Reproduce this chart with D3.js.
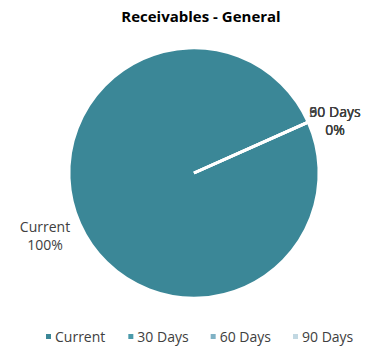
<!DOCTYPE html>
<html><head><meta charset="utf-8">
<script src="https://cdn.jsdelivr.net/npm/d3@7"></script>
<style>body{margin:0;background:#fff}svg{display:block}</style>
</head><body>
<svg id="c" width="367" height="347"></svg>
<script>
const categories = ["Current", "30 Days", "60 Days", "90 Days"];
const values = [100, 0, 0, 0];
const percentLabels = ["100%", "0%", "0%", "0%"];
const colors = ["#3b8797", "#4a9aaa", "#80b2c5", "#c2d8e2"];

const svg = d3.select("#c");
const cx = 194, cy = 173, R = 125;
const font = "'Open Sans', 'Liberation Sans', sans-serif";

svg.append("text").attr("x", 201).attr("y", 22).attr("text-anchor", "middle")
  .attr("font-family", font).attr("font-weight", "bold").attr("font-size", 15)
  .attr("fill", "#000").text("Receivables - General");

const start = 66 * Math.PI / 180;
const pie = d3.pie().sort(null).value(d => d).startAngle(start).endAngle(start + 2 * Math.PI);
const arcs = pie(values);
const arc = d3.arc().innerRadius(0).outerRadius(R);
const g = svg.append("g").attr("transform", `translate(${cx},${cy})`);
g.selectAll("path").data(arcs).join("path")
  .attr("d", arc)
  .attr("fill", (d, i) => colors[i])
  .attr("stroke", "#fff").attr("stroke-width", 3);

// data labels (the three 0% labels sit on top of each other, as in the original)
const labelPos = [[-149, 59], [141, -56], [141, -56], [141, -56]];
arcs.forEach((a, i) => {
  const t = g.append("text").attr("text-anchor", "middle")
    .attr("font-family", font).attr("font-size", 14).attr("fill", "#404040");
  t.append("tspan").attr("x", labelPos[i][0]).attr("y", labelPos[i][1]).text(categories[i]);
  t.append("tspan").attr("x", labelPos[i][0]).attr("y", labelPos[i][1] + 18).text(percentLabels[i]);
});

// legend
const lx = d3.scalePoint().domain(categories).range([46, 293]);
const lg = svg.append("g");
categories.forEach((c, i) => {
  const x = lx(c);
  lg.append("rect").attr("x", x).attr("y", 334).attr("width", 5).attr("height", 5).attr("fill", colors[i]);
  lg.append("text").attr("x", x + 9).attr("y", 342).attr("font-family", font).attr("font-size", 14)
    .attr("fill", "#404040").text(c);
});
</script>
</body></html>
